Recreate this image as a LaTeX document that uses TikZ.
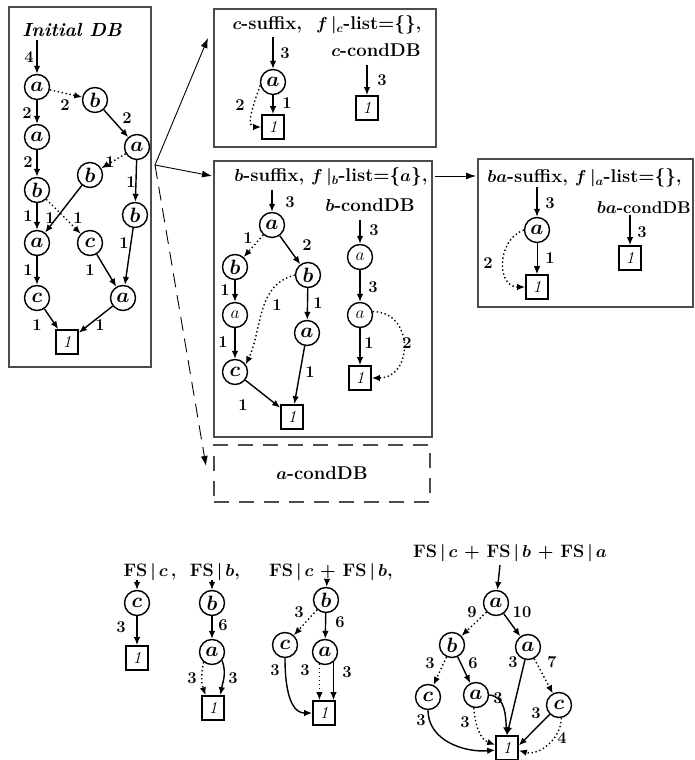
\documentclass[tikz,border=0pt]{standalone}
\usetikzlibrary{arrows.meta}
\begin{document}
\begin{tikzpicture}[x=1pt,y=1pt,
  panel/.style={draw=black!70, line width=1.3pt, rectangle, inner sep=0pt},
  dpanel/.style={panel, dash pattern=on 15pt off 10pt},
  nd/.style={circle, draw, line width=1.4pt, minimum size=25pt, inner sep=0pt,
    font=\fontsize{21}{21}\selectfont\boldmath},
  nds/.style={nd, font=\fontsize{17}{17}\selectfont\unboldmath},
  leaf/.style={rectangle, draw, line width=1.7pt, minimum width=22pt,
    minimum height=24pt, inner sep=0pt, font=\fontsize{17}{17}\selectfont\itshape},
  lbl/.style={inner sep=0pt, font=\fontsize{16.5}{16.5}\selectfont\bfseries},
  ttl/.style={inner sep=0pt, font=\fontsize{18.5}{18.5}\selectfont\bfseries\boldmath},
  fsl/.style={inner sep=0pt, font=\fontsize{18}{18}\selectfont\bfseries\boldmath},
  ed/.style={line width=1.4pt, -{Latex[length=8pt,width=6.5pt]}},
  edthin/.style={line width=1pt, -{Latex[length=8pt,width=6.5pt]}},
  dt/.style={ed, dash pattern=on 1.4pt off 2.6pt},
  link/.style={line width=0.9pt, -{Latex[length=10pt,width=7pt]}},
  dlink/.style={link, dash pattern=on 14pt off 8pt},
]
\path[use as bounding box] (0,0) rectangle (694,760);
\fill[white] (0,0) rectangle (694,760);

% ---------- Initial DB ----------
\node[panel, minimum width=142pt, minimum height=360pt] (pInit) at (80,573) {};
\node[ttl, font=\fontsize{19}{19}\selectfont\bfseries\itshape] (idb) at (72,730) {Initial DB};
\coordinate (s0) at (37,720);
\node[nd] (ia1) at (37,673) {$a$};
\node[nd] (ib1) at (95,660) {$b$};
\node[nd] (ia2) at (37,623) {$a$};
\node[nd] (ia3) at (137,613) {$a$};
\node[nd] (ib2) at (37,570) {$b$};
\node[nd] (ib3) at (90,585) {$b$};
\node[nd] (ib4) at (135,545) {$b$};
\node[nd] (ia4) at (37,517) {$a$};
\node[nd] (ic1) at (90,517) {$c$};
\node[nd] (ic2) at (37,462) {$c$};
\node[nd] (ia5) at (123,462) {$a$};
\node[leaf] (it) at (67,418) {1};
\draw[ed] (s0) -- (ia1);
\draw[dt] (ia1) -- (ib1);
\draw[ed] (ia1) -- (ia2);
\draw[ed] (ib1) -- (ia3);
\draw[ed] (ia2) -- (ib2);
\draw[dt] (ia3) -- (ib3);
\draw[ed] (ia3) -- (ib4);
\draw[ed] (ib2) -- (ia4);
\draw[ed] (ib3) -- (ia4);
\draw[dt] (ib2) -- (ic1);
\draw[ed] (ib4) -- (ia5);
\draw[ed] (ia4) -- (ic2);
\draw[ed] (ic1) -- (ia5);
\draw[ed] (ic2) -- (it);
\draw[ed] (ia5) -- (it);
\node[lbl] (il1) at (29,703) {4};
\node[lbl] (il2) at (65,655) {2};
\node[lbl] (il3) at (27,647) {2};
\node[lbl] (il4) at (127,642) {2};
\node[lbl] (il5) at (28,598) {2};
\node[lbl] (il6) at (110,598) {1};
\node[lbl] (il7) at (131,578) {1};
\node[lbl] (il8) at (28,544) {1};
\node[lbl] (il9) at (50,542) {1};
\node[lbl] (il10) at (78,542) {1};
\node[lbl] (il11) at (124,517) {1};
\node[lbl] (il12) at (28,490) {1};
\node[lbl] (il13) at (90,490) {1};
\node[lbl] (il14) at (37,435) {1};
\node[lbl] (il15) at (100,435) {1};

% ---------- links out of the initial DB ----------
\coordinate (fork) at (155,595);
\coordinate (tipC) at (208,722);
\coordinate (tipB) at (212,584);
\coordinate (tipA) at (206,294);
\draw[link] (fork) -- (tipC);
\draw[link] (fork) -- (tipB);
\draw[dlink] (fork) -- (tipA);

% ---------- c-suffix ----------
\node[panel, minimum width=222pt, minimum height=138pt] (pC) at (325,682) {};
\node[ttl] (tc) at (327,735) {$c$-suffix,\ \ $f\,|_{c}$-list=\{\},};
\node[ttl] (tcc) at (376,710) {$c$-condDB};
\coordinate (cs0) at (273,723);
\node[nd] (ca) at (273,678) {$a$};
\node[leaf] (ct) at (273,633) {1};
\draw[ed] (cs0) -- (ca);
\draw[ed] (ca) -- (ct);
\draw[dt] (ca.195) to[out=250,in=180] (ct.west);
\node[lbl] (cl1) at (285,707) {3};
\node[lbl] (cl2) at (287,657) {1};
\node[lbl] (cl3) at (240,655) {2};
\coordinate (ccd0) at (367,695);
\node[leaf] (cct) at (367,652) {1};
\draw[ed] (ccd0) -- (cct);
\node[lbl] (cl4) at (382,680) {3};

% ---------- b-suffix ----------
\node[panel, minimum width=218pt, minimum height=276pt] (pB) at (323,461) {};
\node[ttl] (tb) at (331,583) {$b$-suffix, $f\,|_{b}$-list=\{$a$\},};
\node[ttl] (tbc) at (370,555) {$b$-condDB};
\coordinate (bs0) at (272,570);
\node[nd] (ba1) at (272,535) {$a$};
\node[nd] (bbL) at (235,493) {$b$};
\node[nd] (bbR) at (308,485) {$b$};
\node[nds] (baL) at (235,445) {$a$};
\node[nd] (bcL) at (235,388) {$c$};
\node[nd] (baR) at (307,427) {$a$};
\node[leaf] (bt) at (292,343) {1};
\draw[ed] (bs0) -- (ba1);
\draw[dt] (ba1) -- (bbL);
\draw[ed] (ba1) -- (bbR);
\draw[ed] (bbL) -- (baL);
\draw[ed] (baL) -- (bcL);
\draw[dt] (bbR.west) to[out=195,in=65] (bcL.35);
\draw[ed] (bbR) -- (baR);
\draw[ed] (baR) -- (bt);
\draw[ed] (bcL) -- (bt);
\node[lbl] (bl1) at (290,558) {3};
\node[lbl] (bl2) at (248,522) {1};
\node[lbl] (bl3) at (307,515) {2};
\node[lbl] (bl4) at (225,470) {1};
\node[lbl] (bl5) at (223,418) {1};
\node[lbl] (bl6) at (277,455) {1};
\node[lbl] (bl7) at (318,457) {1};
\node[lbl] (bl8) at (310,388) {1};
\node[lbl] (bl9) at (243,355) {1};
\coordinate (bcd0) at (360,540);
\node[nds] (bca1) at (360,503) {$a$};
\node[nds] (bca2) at (360,445) {$a$};
\node[leaf] (bct) at (360,382) {1};
\draw[ed] (bcd0) -- (bca1);
\draw[ed] (bca1) -- (bca2);
\draw[ed] (bca2) -- (bct);
\draw[dt] (bca2.15) to[out=0,in=0,looseness=1.6] (bct.east);
\node[lbl] (bl10) at (374,530) {3};
\node[lbl] (bl11) at (373,473) {3};
\node[lbl] (bl12) at (369,417) {1};
\node[lbl] (bl13) at (407,417) {2};

% link b-suffix -> ba-suffix
\coordinate (bo) at (435,584);
\coordinate (bi) at (476,584);
\draw[link] (bo) -- (bi);

% ---------- ba-suffix ----------
\node[panel, minimum width=215pt, minimum height=148pt] (pBA) at (585.5,527) {};
\node[ttl] (tba) at (584.5,582) {$ba$-suffix, $f\,|_{a}$-list=\{\},};
\node[ttl, anchor=east, font=\fontsize{17}{17}\selectfont\bfseries\boldmath] (tbac) at (691,552) {$ba$-condDB};
\coordinate (bas0) at (537,573);
\node[nd] (baa) at (537,530) {$a$};
\node[leaf] (bat) at (537,473) {1};
\draw[ed] (bas0) -- (baa);
\draw[edthin] (baa) -- (bat);
\draw[dt] (baa.west) to[out=200,in=180,looseness=1.3] (bat.west);
\node[lbl] (bal1) at (550,557) {3};
\node[lbl] (bal2) at (550,502) {1};
\node[lbl] (bal3) at (488,497) {2};
\coordinate (bacd0) at (630,545);
\node[leaf] (bact) at (630,502) {1};
\draw[ed] (bacd0) -- (bact);
\node[lbl] (bal4) at (642,528) {3};

% ---------- a-condDB ----------
\node[dpanel, minimum width=216pt, minimum height=57pt] (pA) at (322,286.5) {};
\node[ttl] (tac) at (322,287) {$a$-condDB};

% ---------- FS|c ----------
\node[fsl] (f1) at (150,188) {FS\,$|$\,$c$\,,};
\coordinate (g1s) at (137,180);
\node[nd] (g1c) at (137,157) {$c$};
\node[leaf] (g1t) at (137,102) {1};
\draw[ed] (g1s) -- (g1c);
\draw[ed] (g1c) -- (g1t);
\node[lbl] (g1l) at (121,133) {3};

% ---------- FS|b ----------
\node[fsl] (f2) at (215,188) {FS\,$|$\,$b$,};
\coordinate (g2s) at (212,180);
\node[nd] (g2b) at (212,157) {$b$};
\node[nd] (g2a) at (212,108) {$a$};
\node[leaf] (g2t) at (213,52) {1};
\draw[ed] (g2s) -- (g2b);
\draw[ed] (g2b) -- (g2a);
\draw[ed] (g2a.-40) to[out=-70,in=80] (g2t.60);
\draw[dt] (g2a.-130) to[out=-100,in=110] (g2t.120);
\node[lbl] (g2l1) at (223,135) {6};
\node[lbl] (g2l2) at (192,82) {3};
\node[lbl] (g2l3) at (233,82) {3};

% ---------- FS|c + FS|b ----------
\node[fsl] (f3) at (331,188) {FS\,$|$\,$c$ + FS\,$|$\,$b$,};
\coordinate (g3s) at (327,180);
\node[nd] (g3b) at (326,160) {$b$};
\node[nd] (g3c) at (285,115) {$c$};
\node[nd] (g3a) at (325,108) {$a$};
\node[leaf] (g3t) at (324,47) {1};
\draw[ed] (g3s) -- (g3b);
\draw[dt] (g3b) -- (g3c);
\draw[ed] (g3b) -- (g3a);
\draw[ed] (g3c.south) to[out=-90,in=180] (g3t.west);
\draw[dt] (g3a.-115) -- (g3a.-115 |- g3t.north);
\draw[ed] (g3a.-50) -- (g3a.-50 |- g3t.north);
\node[lbl] (g3l1) at (299,148) {3};
\node[lbl] (g3l2) at (340,138) {6};
\node[lbl] (g3l3) at (275,90) {3};
\node[lbl] (g3l4) at (305,90) {3};
\node[lbl] (g3l5) at (347,88) {3};

% ---------- FS|c + FS|b + FS|a ----------
\node[fsl] (f4) at (510,207) {FS\,$|$\,$c$ + FS\,$|$\,$b$ + FS\,$|$\,$a$};
\coordinate (g4s) at (500,195);
\node[nd] (g4a) at (496,157) {$a$};
\node[nd] (g4b) at (452,115) {$b$};
\node[nd] (g4aR) at (528,113) {$a$};
\node[nd] (g4cL) at (428,63) {$c$};
\node[nd] (g4aM) at (476,65) {$a$};
\node[nd] (g4cR) at (559,55) {$c$};
\node[leaf] (g4t) at (507,12) {1};
\draw[ed] (g4s) -- (g4a);
\draw[dt] (g4a) -- (g4b);
\draw[ed] (g4a) -- (g4aR);
\draw[dt] (g4b) -- (g4cL);
\draw[ed] (g4b) -- (g4aM);
\draw[dt] (g4aR) -- (g4cR);
\draw[ed] (g4cL.south) to[out=-90,in=185] (g4t.190);
\draw[dt] (g4aM.-100) to[out=-85,in=160] (g4t.165);
\draw[ed] (g4aM.east) to[out=-5,in=95] (g4t.north);
\draw[ed] (g4aR) -- (g4t.north);
\draw[ed] (g4cR) -- (g4t.12);
\draw[dt] (g4cR.-80) to[out=-90,in=-15] (g4t.-12);
\node[lbl] (g4l1) at (472,148) {9};
\node[lbl] (g4l2) at (522,148) {10};
\node[lbl] (g4l3) at (430,97) {3};
\node[lbl] (g4l4) at (473,97) {6};
\node[lbl] (g4l5) at (552,98) {7};
\node[lbl] (g4l6) at (421,40) {3};
\node[lbl] (g4l7) at (465,38) {3};
\node[lbl] (g4l8) at (498,62) {3};
\node[lbl] (g4l9) at (513,98) {3};
\node[lbl] (g4l10) at (536,47) {3};
\node[lbl] (g4l11) at (562,22) {4};
\end{tikzpicture}
\end{document}
